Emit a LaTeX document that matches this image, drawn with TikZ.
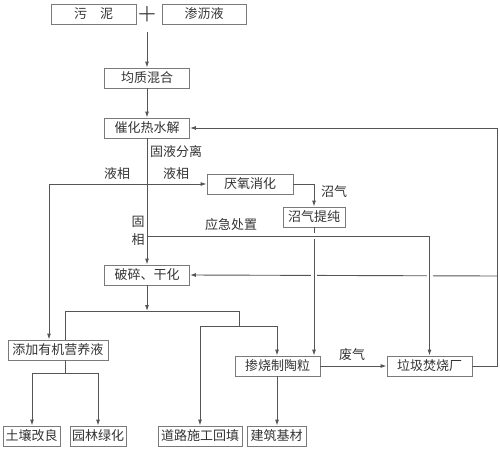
\documentclass[tikz,border=0pt]{standalone}
\usepackage{fontspec}
\newfontfamily\cjk{Noto Sans CJK SC}
\usetikzlibrary{arrows.meta}
\definecolor{boxc}{HTML}{7A7A7A}
\definecolor{linec}{HTML}{555555}
\definecolor{txtc}{HTML}{333333}
\begin{document}
\begin{tikzpicture}[x=1pt,y=-1pt,
  box/.style={draw=boxc, line width=0.9pt, minimum height=20pt, inner sep=0pt, font=\cjk\fontsize{13}{15}\selectfont, text=txtc},
  ln/.style={draw=linec, line width=0.9pt},
  arr/.style={ln, -{Latex[length=6pt,width=4pt]}},
  lbl/.style={font=\cjk\fontsize{13}{15}\selectfont, text=txtc, inner sep=0pt},
  gap/.style={draw=white, line width=6pt}]
\useasboundingbox (0,0) rectangle (500,450);
% boxes
\node[box, minimum width=85pt] (wn) at (93.5,14) {污　泥};
\node[box, minimum width=84pt] (sl) at (204,14) {渗沥液};
\node[lbl, font=\bfseries\fontsize{21}{21}\selectfont, text=txtc] (plus) at (147,14.5) {+};
\node[box, minimum width=85pt] (jz) at (147,78) {均质混合};
\node[box, minimum width=85pt] (ch) at (147,128) {催化热水解};
\node[box, minimum width=86pt] (yy) at (250,184) {厌氧消化};
\node[box, minimum width=62pt] (zq) at (314,217) {沼气提纯};
\node[box, minimum width=85pt] (ps) at (147,275) {破碎、干化};
\node[box, minimum width=100pt] (tj) at (58,350) {添加有机营养液};
\node[box, minimum width=85pt] (cs) at (277.5,366) {掺烧制陶粒};
\node[box, minimum width=85pt] (lj) at (429.5,366) {垃圾焚烧厂};
\node[box, minimum width=57pt] (tr) at (31.5,436) {土壤改良};
\node[box, minimum width=56pt] (yl) at (98,436) {园林绿化};
\node[box, minimum width=84pt] (dl) at (200,436) {道路施工回填};
\node[box, minimum width=59pt] (jc) at (276.5,436) {建筑基材};
% coordinates
\coordinate (pt) at (147,32);
\coordinate (lc) at (49,184);
\coordinate (ec) at (147,236);
\coordinate (br1) at (147,311);
\coordinate (b1l) at (65,311);
\coordinate (b1r) at (239,311);
\coordinate (b2l) at (200,326);
\coordinate (b2r) at (277,326);
\coordinate (b2m) at (239,326);
\coordinate (b3c) at (65,373);
\coordinate (b3l) at (32,373);
\coordinate (b3r) at (98,373);
\coordinate (rc) at (497,366);
\coordinate (rt) at (497,128);
\coordinate (rm) at (497,276);
% connectors
\draw[arr] (pt) -- (pt |- jz.north);
\draw[arr] (jz) -- (ch);
\draw[arr] (ch) -- (ps);
\draw[arr] (lc) -- (yy.west);
\draw[arr] (lc) -- (lc |- tj.north);
\draw[arr] (yy.east) -| (zq.north);
\draw[arr] (zq.south) -- (zq.south |- cs.north);
\draw[arr] (ec) -| (lj.north);
\draw[arr] (lj.east) -- (rc) -- (rt) -- (ch.east);
\draw[arr] (rm) -- (ps.east);
\draw[arr] (ps.south) -- (br1);
\draw[ln] (b1l) -- (b1r) -- (b2m);
\draw[ln] (b1l) -- (b1l |- tj.north);
\draw[ln] (b2l) -- (b2r);
\draw[arr] (b2l) -- (b2l |- dl.north);
\draw[arr] (b2r) -- (b2r |- cs.north);
\draw[ln] (b3c |- tj.south) -- (b3c);
\draw[ln] (b3l) -- (b3r);
\draw[arr] (b3l) -- (b3l |- tr.north);
\draw[arr] (b3r) -- (b3r |- yl.north);
\draw[arr] (cs.south -| b2r) -- (b2r |- jc.north);
\draw[arr] (cs.east) -- (lj.west);
% line hops
\coordinate (h1) at (zq.south |- ec);
\draw[gap] ([xshift=-6pt]h1) -- ([xshift=6pt]h1);
\draw[ln] ([xshift=-6pt]h1) -- ([xshift=6pt]h1);
\coordinate (h2) at (zq.south |- rm);
\draw[gap] ([yshift=-6pt]h2) -- ([yshift=6pt]h2);
\draw[ln] ([yshift=-6pt]h2) -- ([yshift=6pt]h2);
\coordinate (h3) at (lj.north |- rm);
\draw[gap] ([yshift=-6pt]h3) -- ([yshift=6pt]h3);
\draw[ln] ([yshift=-6pt]h3) -- ([yshift=6pt]h3);
% labels
\node[lbl, anchor=west] at (150,152) {固液分离};
\node[lbl] at (117,174) {液相};
\node[lbl] at (176,174) {液相};
\node[lbl] at (138,222) {固};
\node[lbl] at (138,240) {相};
\node[lbl] at (231,225) {应急处置};
\node[lbl] at (334,192) {沼气};
\node[lbl] at (352,355) {废气};
\end{tikzpicture}
\end{document}
